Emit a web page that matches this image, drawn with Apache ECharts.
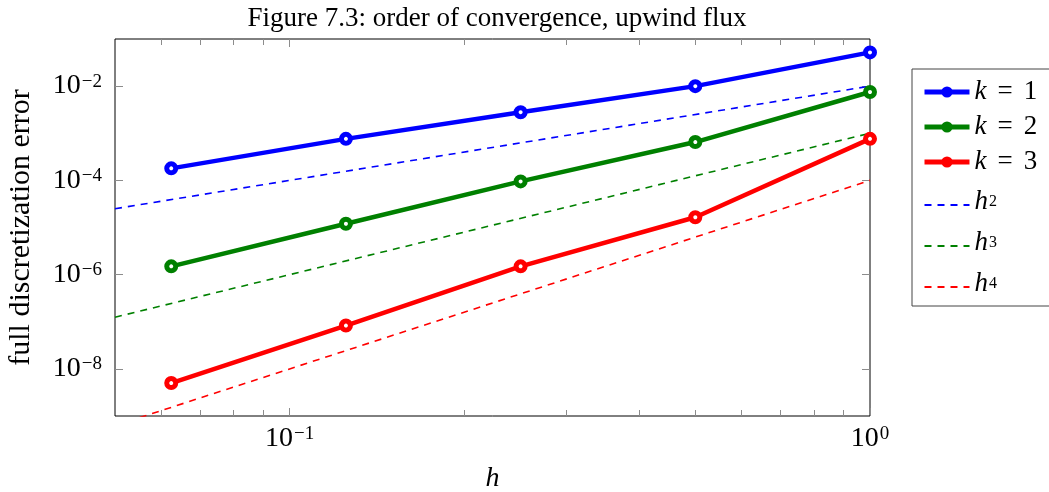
<!DOCTYPE html>
<html>
<head>
<meta charset="utf-8">
<script src="https://cdn.jsdelivr.net/npm/echarts@6/dist/echarts.min.js"></script>
<style>html,body{margin:0;padding:0;background:#fff;}#c{width:1049px;height:492px;}</style>
</head>
<body>
<div id="c"></div>
<script>
const hValues = [0.0625, 0.125, 0.25, 0.5, 1];
const k1 = [1.8e-4, 7.6e-4, 2.8e-3, 1.0e-2, 5.2e-2];
const k2 = [1.5e-6, 1.2e-5, 9.5e-5, 6.5e-4, 7.5e-3];
const k3 = [5.0e-9, 8.3e-8, 1.5e-6, 1.65e-5, 7.6e-4];
const hRef = [0.05, 1];
const h2 = [2.5e-5, 1e-2];
const h3 = [1.25e-7, 1e-3];
const h4 = [6.25e-10, 1e-4];
const xMajorTicks = [0.1, 1];
const xMinorTicks = [0.06, 0.07, 0.08, 0.09, 0.2, 0.3, 0.4, 0.5, 0.6, 0.7, 0.8, 0.9];
const yMajorTicks = [1e-2, 1e-4, 1e-6, 1e-8];

const FONT = '"Liberation Serif", "DejaVu Serif", serif';
const zip = (xs, ys) => xs.map((x, i) => [x, ys[i]]);
const pow10 = v => {
  const e = Math.round(Math.log10(v));
  return '{b|10}{s|' + (e < 0 ? '\u2212' + (-e) : e) + '}';
};
const tickRich = {
  b: {fontFamily: FONT, fontSize: 28, lineHeight: 28, color: '#000', verticalAlign: 'bottom', padding: [4, 0, 0, 0]},
  s: {fontFamily: FONT, fontSize: 19, lineHeight: 19, color: '#000', verticalAlign: 'top', padding: [0, 0, 0, 1]}
};

const chart = echarts.init(document.getElementById('c'), null, {renderer: 'canvas'});

function xAxisDef(pos, values, len, showLabel) {
  return {
    type: 'log', logBase: 10, min: 0.05, max: 1, position: pos,
    axisLine: {show: false},
    splitLine: {show: false},
    axisTick: {show: true, inside: true, length: len, customValues: values, lineStyle: {color: '#8c8c8c', width: 1}},
    axisLabel: {show: showLabel, customValues: values, formatter: pow10, rich: tickRich, margin: 9},
    name: showLabel ? 'h' : '',
    nameLocation: 'middle', nameGap: 49,
    nameTextStyle: {fontFamily: FONT, fontStyle: 'italic', fontSize: 28, color: '#000'}
  };
}
function yAxisDef(pos, showLabel) {
  return {
    type: 'log', logBase: 10, min: 1e-9, max: 1e-1, position: pos,
    axisLine: {show: false},
    splitLine: {show: false},
    axisTick: {show: true, inside: true, length: 8, customValues: yMajorTicks, lineStyle: {color: '#8c8c8c', width: 1}},
    axisLabel: {show: showLabel, customValues: yMajorTicks, formatter: pow10, rich: tickRich, margin: 13},
    name: showLabel ? 'full discretization error' : '',
    nameLocation: 'middle', nameGap: 79, nameRotate: 90,
    nameTextStyle: {fontFamily: FONT, fontSize: 30, color: '#000'}
  };
}

const lineSeries = (name, color, ys) => ({
  name, type: 'line', xAxisIndex: 0, yAxisIndex: 0,
  data: zip(hValues, ys),
  lineStyle: {color, width: 4.5},
  symbol: 'circle', symbolSize: 9,
  itemStyle: {color: '#fff', borderColor: color, borderWidth: 5},
  z: 3, clip: false
});
const refSeries = (name, color, ys) => ({
  name, type: 'line', xAxisIndex: 0, yAxisIndex: 0,
  data: zip(hRef, ys),
  lineStyle: {color, width: 1.6, type: [7, 6]},
  itemStyle: {color},
  symbol: 'none', showSymbol: false, z: 2, clip: true
});

const legendText = {fontFamily: FONT, fontSize: 27, lineHeight: 30, color: '#000'};
chart.setOption({
  animation: false,
  backgroundColor: '#fff',
  title: {
    text: 'Figure 7.3: order of convergence, upwind flux',
    left: 492, top: 0, textAlign: 'center',
    textStyle: {fontFamily: FONT, fontSize: 27, fontWeight: 'normal', color: '#000'}
  },
  grid: {left: 115, top: 39, right: 179, bottom: 76, show: true, borderColor: '#000', borderWidth: 1,
         backgroundColor: 'transparent', containLabel: false, outerBoundsMode: 'none'},
  legend: {
    orient: 'vertical', left: 912, top: 69,
    borderColor: '#444', borderWidth: 1, padding: [8, 30, 6, 10],
    itemWidth: 45, itemHeight: 14, itemGap: 5,
    textStyle: Object.assign({}, legendText, {
      rich: {
        i: Object.assign({}, legendText, {fontStyle: 'italic'}),
        eq: Object.assign({}, legendText, {padding: [0, 11, 0, 11]}),
        n: Object.assign({}, legendText),
        hb: Object.assign({}, legendText, {lineHeight: 26, fontStyle: 'italic', verticalAlign: 'bottom', padding: [6, 0, 3, 0]}),
        sup: {fontFamily: FONT, fontSize: 16, lineHeight: 16, color: '#000', verticalAlign: 'top', padding: [2, 0, 0, 1]}
      }}),
    formatter: function (name) {
      if (name.charAt(0) === 'k') return '{i|k}{eq|=}{n|' + name.slice(2) + '}';
      return '{hb|h}{sup|' + name.slice(2) + '}';
    },
    data: [
      {name: 'k=1', itemStyle: {color: '#0000ff', borderColor: '#0000ff', borderWidth: 0}, lineStyle: {width: 5}},
      {name: 'k=2', itemStyle: {color: '#008000', borderColor: '#008000', borderWidth: 0}, lineStyle: {width: 5}},
      {name: 'k=3', itemStyle: {color: '#ff0000', borderColor: '#ff0000', borderWidth: 0}, lineStyle: {width: 5}},
      {name: 'h^2', itemStyle: {color: 'rgba(0,0,0,0)', borderWidth: 0, opacity: 0}, lineStyle: {width: 2}},
      {name: 'h^3', itemStyle: {color: 'rgba(0,0,0,0)', borderWidth: 0, opacity: 0}, lineStyle: {width: 2}},
      {name: 'h^4', itemStyle: {color: 'rgba(0,0,0,0)', borderWidth: 0, opacity: 0}, lineStyle: {width: 2}}
    ]
  },
  xAxis: [
    xAxisDef('bottom', xMajorTicks, 8, true),
    xAxisDef('bottom', xMinorTicks, 6, false),
    xAxisDef('top', xMajorTicks, 8, false),
    xAxisDef('top', xMinorTicks, 6, false)
  ],
  yAxis: [yAxisDef('left', true), yAxisDef('right', false)],
  series: [
    lineSeries('k=1', '#0000ff', k1),
    lineSeries('k=2', '#008000', k2),
    lineSeries('k=3', '#ff0000', k3),
    refSeries('h^2', '#0000ff', h2),
    refSeries('h^3', '#008000', h3),
    refSeries('h^4', '#ff0000', h4)
  ]
});
</script>
</body>
</html>
